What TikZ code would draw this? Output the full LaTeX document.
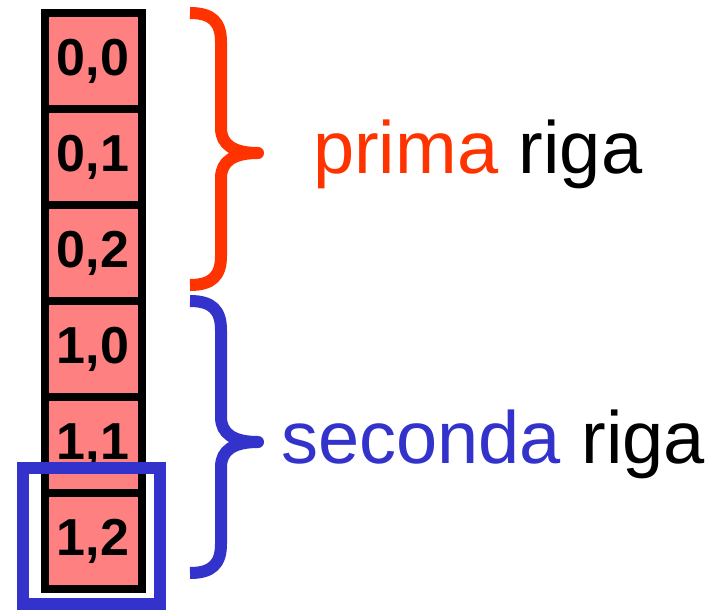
\documentclass[tikz,border=0pt]{standalone}
\usepackage{fontspec}
\setmainfont{Liberation Sans}
\definecolor{cellfill}{RGB}{255,128,128}
\definecolor{rowred}{RGB}{255,51,0}
\definecolor{rowblue}{RGB}{51,51,204}
\begin{document}
\begin{tikzpicture}[x=1pt,y=-1pt,
  cell/.style={draw=black,fill=cellfill,line width=8pt,minimum width=96.5pt,minimum height=96pt,inner sep=0pt},
  celltext/.style={anchor=base,inner sep=0pt,font=\fontsize{52}{52}\selectfont\bfseries},
  bracepath/.style={line width=12pt,line join=round},
  rowlabel/.style={anchor=base west,inner sep=0pt,font=\fontsize{74}{74}\selectfont}]
\useasboundingbox (0,0) rectangle (727,610);
% column of cells, row-major order
\foreach \name/\lbl [count=\i from 0] in {c00/{0,0},c01/{0,1},c02/{0,2},c10/{1,0},c11/{1,1},c12/{1,2}}{
  \node[cell] (\name) at (93.25,61+96*\i) {};
  \node[celltext] (t\name) at (93,75+96*\i) {\lbl};
}
% highlight around the last element
\node[draw=rowblue,line width=12pt,minimum width=137pt,minimum height=136pt,inner sep=0pt] (sel) at (91.5,536) {};
% braces
\coordinate (rtop) at (190,13);
\coordinate (rtip) at (258,153);
\coordinate (rbot) at (190,285);
\draw[bracepath,rowred] (rtop) .. controls (212,13) and (221,22) .. (221,42)
  -- (221,128) .. controls (221,145) and (234,153) .. (rtip)
  .. controls (234,153) and (221,161) .. (221,178)
  -- (221,256) .. controls (221,276) and (212,285) .. (rbot);
\coordinate (btop) at (190,301);
\coordinate (btip) at (258,442);
\coordinate (bbot) at (190,573);
\draw[bracepath,rowblue] (btop) .. controls (212,301) and (221,310) .. (221,330)
  -- (221,417) .. controls (221,434) and (234,442) .. (btip)
  .. controls (234,442) and (221,450) .. (221,467)
  -- (221,544) .. controls (221,564) and (212,573) .. (bbot);
% row labels
\node[rowlabel] (prima) at (313,173) {\textcolor{rowred}{prima} riga};
\node[rowlabel] (seconda) at (281,463) {\textcolor{rowblue}{seconda} riga};
\end{tikzpicture}
\end{document}
